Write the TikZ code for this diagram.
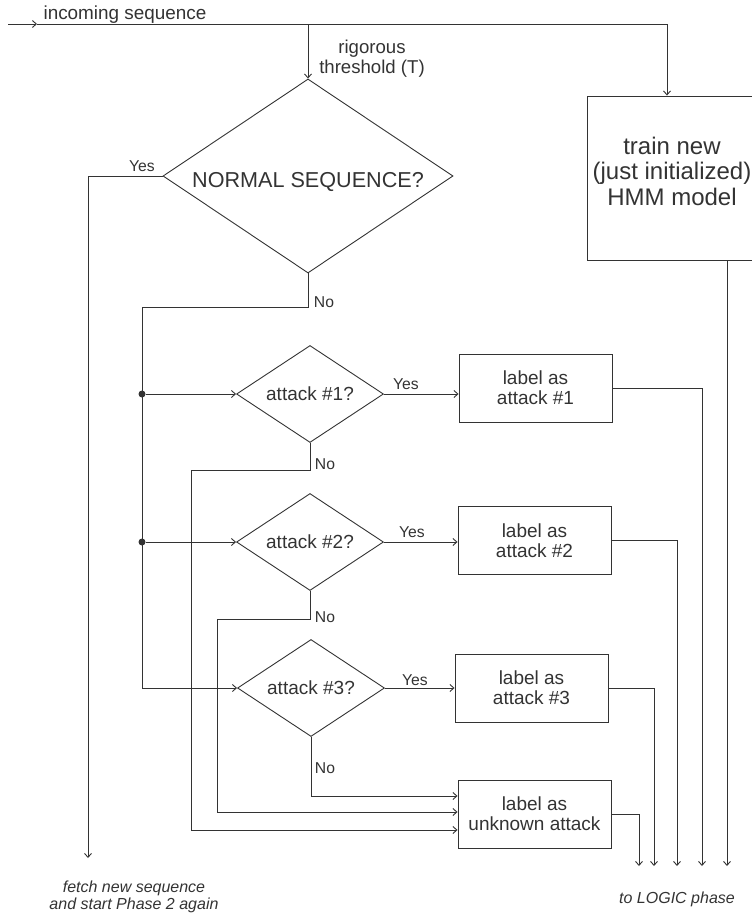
\documentclass[tikz,border=0pt]{standalone}
\usepackage{fontspec}
\setmainfont{Liberation Sans}
\usetikzlibrary{shapes.geometric,arrows.meta}
\begin{document}
\begin{tikzpicture}[x=1pt,y=-1pt,
 ln/.style={draw=black!80, line width=0.9pt},
 arr/.style={ln, -{Straight Barb[length=4pt,width=7pt]}},
 dec/.style={diamond, draw=black!80, line width=0.9pt, inner sep=0pt, text=black!80},
 bigdec/.style={dec, minimum width=290pt, minimum height=194pt},
 smalldec/.style={dec, minimum width=147pt, minimum height=97pt, font=\fontsize{19}{20}\selectfont},
 box/.style={rectangle, draw=black!80, line width=0.9pt, minimum width=153pt, minimum height=68pt, align=center, text=black!80, font=\fontsize{19}{20}\selectfont},
 lab/.style={text=black!80, font=\fontsize{15.7}{17}\selectfont, inner sep=0pt},
 txt/.style={text=black!80, inner sep=0pt, align=center},
 dot/.style={circle, fill=black!80, inner sep=0pt, minimum size=7pt},
]
\useasboundingbox (0,0) rectangle (752,918);

% nodes
\node[bigdec] (nd) at (308,176) {\fontsize{21.6}{24}\selectfont\makebox[0pt]{\raisebox{-11.7pt}[0pt][0pt]{NORMAL SEQUENCE?}}};
\node[rectangle, draw=black!80, line width=0.9pt, minimum width=170pt, minimum height=164pt, text=black!80, font=\fontsize{24}{25.5}\selectfont] (tr) at (672,178) {\raisebox{-3pt}[0pt][0pt]{\begin{tabular}{@{}c@{}}train new\\(just initialized)\\HMM model\end{tabular}}};

\node[smalldec] (d1) at (310,394) {\makebox[0pt]{attack \#1?}};
\node[smalldec] (d2) at (310,542) {\makebox[0pt]{attack \#2?}};
\node[smalldec] (d3) at (311,688) {\makebox[0pt]{attack \#3?}};

\node[box] (b1) at (535.5,388) {label as\\attack \#1};
\node[box] (b2) at (534.5,540.5) {label as\\attack \#2};
\node[box] (b3) at (531.5,688) {label as\\attack \#3};
\node[box] (b4) at (534.5,814) {label as\\unknown attack};

% texts
\node[txt, font=\fontsize{18.9}{20}\selectfont] (tin) at (125,15) {incoming sequence};
\node[txt, font=\fontsize{18.6}{20}\selectfont] (tthr) at (372,59) {rigorous\\threshold (T)};
\node[txt, font=\itshape\fontsize{16}{17}\selectfont] (tfetch) at (134,897) {fetch new sequence\\and start Phase 2 again};
\node[txt, font=\itshape\fontsize{16}{17}\selectfont] (tlogic) at (677,899) {to LOGIC phase};

% incoming
\coordinate (s0) at (8,24);
\coordinate (s1) at (37,24);
\coordinate (tj) at (667,24);
\draw[arr] (s0) -- (s1);
\draw[ln] (s1) -- (tj);
\draw[arr] (tj) -- (tj |- tr.north);
\draw[arr] (nd.north |- tj) -- (nd.north);

% main yes
\coordinate (fy) at (88,858);
\draw[arr] (nd.west) -| (fy);
\node[lab] (ly0) at (142,166) {Yes};

% main no
\coordinate (lv) at (142,307);
\draw[arr] (nd.south) |- (lv) |- (d3.west);
\node[lab] (ln0) at (324,302) {No};
\node[dot] (j1) at (lv |- d1.west) {};
\node[dot] (j2) at (lv |- d2.west) {};
\draw[arr] (j1) -- (d1.west);
\draw[arr] (j2) -- (d2.west);

% yes arrows
\draw[arr] (d1.east) -- (d1.east -| b1.west);
\draw[arr] (d2.east) -- (d2.east -| b2.west);
\draw[arr] (d3.east) -- (d3.east -| b3.west);
\node[lab] (ly1) at (406,384) {Yes};
\node[lab] (ly2) at (412,532) {Yes};
\node[lab] (ly3) at (415,680) {Yes};

% no arrows
\coordinate (m1) at (191,470);
\coordinate (m2) at (217,619);
\draw[arr] (d1.south) |- (m1) |- ([yshift=-16pt]b4.west);
\draw[arr] (d2.south) |- (m2) |- ([yshift=2pt]b4.west);
\draw[arr] (d3.south) |- ([yshift=18pt]b4.west);
\node[lab] (ln1) at (325,464) {No};
\node[lab] (ln2) at (325,617) {No};
\node[lab] (ln3) at (325,768) {No};

% outputs
\coordinate (e1) at (702,866);
\coordinate (e2) at (677,866);
\coordinate (e3) at (654,866);
\coordinate (e4) at (639,866);
\coordinate (e5) at (727,866);
\draw[arr] (b1.east) -| (e1);
\draw[arr] (b2.east) -| (e2);
\draw[arr] (b3.east) -| (e3);
\draw[arr] (b4.east) -| (e4);
\draw[arr] (tr.south -| e5) -- (e5);
\end{tikzpicture}
\end{document}
